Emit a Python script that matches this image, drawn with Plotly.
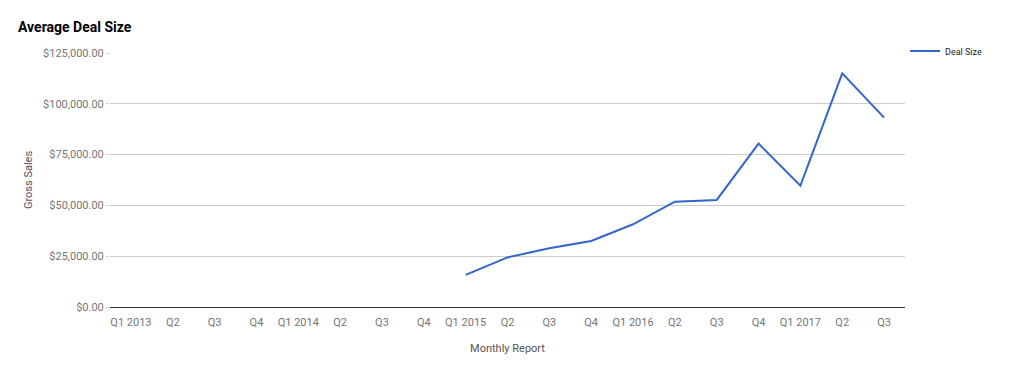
import plotly.graph_objects as go

quarters = ["Q1 2013", "Q2 2013", "Q3 2013", "Q4 2013",
            "Q1 2014", "Q2 2014", "Q3 2014", "Q4 2014",
            "Q1 2015", "Q2 2015", "Q3 2015", "Q4 2015",
            "Q1 2016", "Q2 2016", "Q3 2016", "Q4 2016",
            "Q1 2017", "Q2 2017", "Q3 2017"]
tick_labels = ["Q1 2013", "Q2", "Q3", "Q4",
               "Q1 2014", "Q2", "Q3", "Q4",
               "Q1 2015", "Q2", "Q3", "Q4",
               "Q1 2016", "Q2", "Q3", "Q4",
               "Q1 2017", "Q2", "Q3"]
deal_size = [None, None, None, None,
             None, None, None, None,
             15800, 24400, 28900, 32500,
             40700, 51800, 52700, 80400,
             59700, 115000, 93200]
y_ticks = [0, 25000, 50000, 75000, 100000, 125000]
y_tick_labels = ["$0.00", "$25,000.00", "$50,000.00", "$75,000.00",
                 "$100,000.00", "$125,000.00"]

fig = go.Figure()
fig.add_trace(go.Scatter(
    x=quarters, y=deal_size, mode="lines", name="Deal Size",
    line=dict(color="#3366CC", width=2), connectgaps=False,
))

W, H = 1012, 364
fig.update_layout(
    width=W, height=H,
    margin=dict(l=102, r=115, t=45, b=65),
    paper_bgcolor="white", plot_bgcolor="white",
    font=dict(family="Roboto, Arial, sans-serif", color="#757575", size=11),
    title=dict(text="<b>Average Deal Size</b>", x=10 / W, xanchor="left",
               y=1 - 19 / H, yanchor="middle",
               font=dict(size=14, color="#000000", family="Roboto, Arial, sans-serif")),
    showlegend=True,
    legend=dict(x=1.0, y=1.065, xanchor="left", yanchor="top",
                font=dict(size=9, color="#222222"), itemwidth=30,
                bgcolor="rgba(0,0,0,0)"),
    xaxis=dict(
        type="category", tickmode="array", tickvals=quarters, ticktext=tick_labels,
        range=[-0.5, len(quarters) - 0.5], showgrid=False, showline=False,
        ticks="outside", ticklen=5, tickcolor="rgba(0,0,0,0)",
        tickfont=dict(size=11, color="#757575"),
        title=dict(text="Monthly Report", font=dict(size=11, color="#555555"), standoff=16),
    ),
    yaxis=dict(
        range=[0, 125000], tickmode="array", tickvals=y_ticks, ticktext=y_tick_labels,
        showgrid=True, gridcolor="#cccccc", gridwidth=1,
        zeroline=True, zerolinecolor="#333333", zerolinewidth=1,
        showline=False, ticks="outside", ticklen=3, tickcolor="#cccccc",
        tickfont=dict(size=11, color="#757575"),
        title=dict(text="Gross Sales", font=dict(size=11, color="#555555"), standoff=8),
    ),
)

fig.write_html("out.html")
